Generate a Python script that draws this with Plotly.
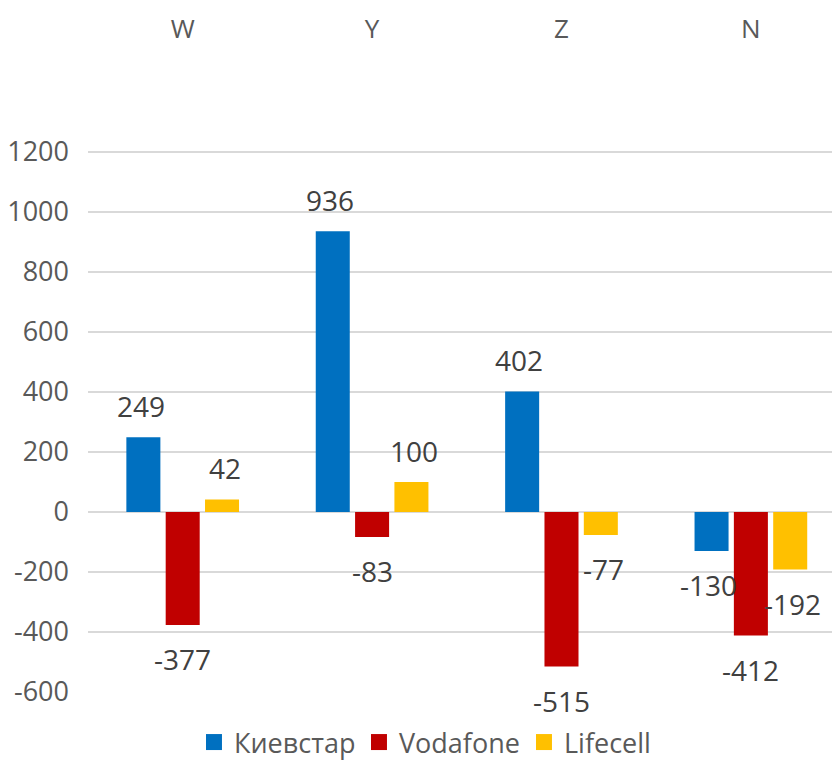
import plotly.graph_objects as go

categories = ["W", "Y", "Z", "N"]
series_names = ["Киевстар", "Vodafone", "Lifecell"]
kyivstar = [249, 936, 402, -130]
vodafone = [-377, -83, -515, -412]
lifecell = [42, 100, -77, -192]
colors = ["#0070C0", "#C00000", "#FFC000"]
ytick_vals = [-600, -400, -200, 0, 200, 400, 600, 800, 1000, 1200]
ytick_text = ["-600", "-400", "-200", "0", "200", "400", "600", "800", "1000", "1200"]

FONT = "Open Sans"
series = [kyivstar, vodafone, lifecell]
xshifts = [-42, 0, 42]

fig = go.Figure()
for name, vals, col in zip(series_names, series, colors):
    fig.add_trace(go.Bar(x=categories, y=vals, name=name, showlegend=False,
                         marker=dict(color=col, line=dict(width=0))))
# legend entries with larger square swatches
for name, col in zip(series_names, colors):
    fig.add_trace(go.Scatter(x=[None], y=[None], mode="markers", name=name,
                             marker=dict(symbol="square", size=16, color=col)))

annotations = []
for vals, xs in zip(series, xshifts):
    for c, v in zip(categories, vals):
        annotations.append(dict(
            x=c, y=v, text=str(v), showarrow=False, xshift=xs,
            yshift=31 if v >= 0 else -34, yanchor="middle", xanchor="center",
            font=dict(family=FONT, size=28, color="#404040")))

# page body has an 8px margin, so the figure is sized/margined to compensate
fig.update_layout(
    width=832, height=759,
    plot_bgcolor="white", paper_bgcolor="white",
    barmode="group", bargap=0.377, bargroupgap=0.135,
    margin=dict(l=80, r=2, t=36, b=75, autoexpand=False),
    font=dict(family=FONT, color="#595959"),
    annotations=annotations,
    legend=dict(orientation="h", xref="container", yref="container",
                x=0.521, y=-0.006, xanchor="center", yanchor="bottom",
                entrywidth=120, entrywidthmode="pixels",
                font=dict(family=FONT, size=27, color="#595959")),
    showlegend=True,
)
fig.update_xaxes(side="top", range=[-0.5, 3.46], showgrid=False, showline=False,
                 ticks="", tickfont=dict(family=FONT, size=26, color="#595959"))
fig.update_yaxes(range=[-600, 1560], tickvals=ytick_vals, ticktext=ytick_text, showgrid=True,
                 gridcolor="#D9D9D9", gridwidth=1.5, zeroline=True, zerolinecolor="#D9D9D9",
                 zerolinewidth=1.5, showline=False, ticks="", ticklabelstandoff=18,
                 tickfont=dict(family=FONT, size=27, color="#595959"))

fig.write_html("out.html")
